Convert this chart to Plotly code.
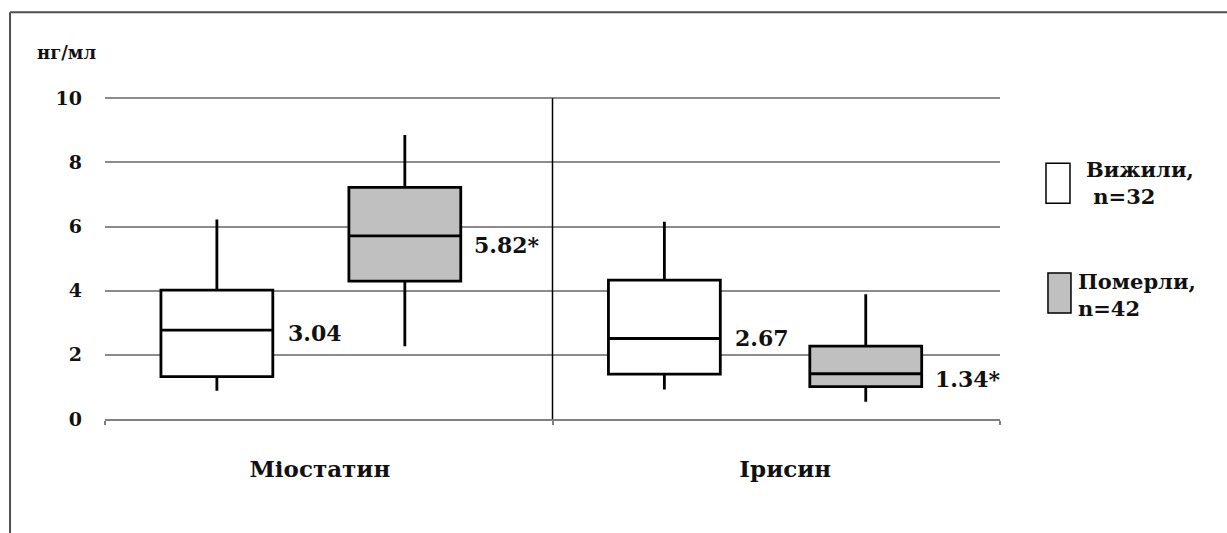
import plotly.graph_objects as go

# ---------------- data ----------------
categories = ["Міостатин", "Ірисин"]
groups = ["Вижили,", "Померли,"]
group_n = ["n=32", "n=42"]

# five-number summaries (ng/ml), per group, per category
surv_low = [0.88, 0.92]
surv_q1 = [1.32, 1.40]
surv_med = [2.77, 2.51]
surv_q3 = [4.02, 4.33]
surv_high = [6.22, 6.15]

died_low = [2.27, 0.54]
died_q1 = [4.30, 1.01]
died_med = [5.71, 1.41]
died_q3 = [7.22, 2.27]
died_high = [8.85, 3.89]

surv_labels = ["3.04", "2.67"]
died_labels = ["5.82*", "1.34*"]

y_ticks = [0, 2, 4, 6, 8, 10]
y_unit = "нг/мл"

# ---------------- layout constants ----------------
FONT = "DejaVu Serif"
TXT = "#111111"
BOX_W = 0.25
SURV_OFF = [0.25, 0.25]   # offset of the box inside each category slot
DIED_OFF = [0.67, 0.70]
FILLS = ["#ffffff", "#c0c0c0"]
LABEL_SHIFT_S = [-3, 0]   # px vertical nudges of the value labels
LABEL_SHIFT_D = [-9, -5]
Y_TOP = 10.1              # small headroom so the top gridline is drawn

# paper-y helper: plot area spans 0..Y_TOP; convert pixel rows of the 1227x533 canvas
PLOT_TOP_PX = 533 - 114 - 321 * Y_TOP / 10.0
def py(px):
    return (419 - px) / (419 - PLOT_TOP_PX)

fig = go.Figure()

def add_boxes(low, q1, med, q3, high, offs, fill, name):
    for i in range(len(categories)):
        fig.add_trace(go.Box(
            x=[i + offs[i]], lowerfence=[low[i]], q1=[q1[i]], median=[med[i]],
            q3=[q3[i]], upperfence=[high[i]], width=BOX_W, whiskerwidth=0,
            fillcolor=fill, line=dict(color="#000000", width=2.8),
            name=name, showlegend=False, hoverinfo="skip", boxpoints=False))

add_boxes(surv_low, surv_q1, surv_med, surv_q3, surv_high, SURV_OFF, FILLS[0], groups[0])
add_boxes(died_low, died_q1, died_med, died_q3, died_high, DIED_OFF, FILLS[1], groups[1])

annotations = []
for i in range(len(categories)):
    annotations.append(dict(x=i + SURV_OFF[i] + BOX_W / 2, y=surv_med[i], xref="x", yref="y",
                            text=f"<b>{surv_labels[i]}</b>", showarrow=False, xanchor="left",
                            xshift=13, yshift=LABEL_SHIFT_S[i],
                            font=dict(family=FONT, size=22, color=TXT)))
    annotations.append(dict(x=i + DIED_OFF[i] + BOX_W / 2, y=died_med[i], xref="x", yref="y",
                            text=f"<b>{died_labels[i]}</b>", showarrow=False, xanchor="left",
                            xshift=11, yshift=LABEL_SHIFT_D[i],
                            font=dict(family=FONT, size=22, color=TXT)))

# unit label
annotations.append(dict(x=-0.078, y=py(52), xref="paper", yref="paper", text=f"<b>{y_unit}</b>",
                        showarrow=False, xanchor="left", yanchor="middle",
                        font=dict(family=FONT, size=18, color=TXT)))

# legend (drawn manually)
annotations.append(dict(x=1.094, y=py(183), xref="paper", yref="paper",
                        text=f"<b>{groups[0]}</b><br><b> {group_n[0]}</b>", showarrow=False,
                        xanchor="left", yanchor="middle", align="left",
                        font=dict(family=FONT, size=21, color=TXT)))
annotations.append(dict(x=1.085, y=py(295), xref="paper", yref="paper",
                        text=f"<b>{groups[1]}</b><br><b>{group_n[1]}</b>", showarrow=False,
                        xanchor="left", yanchor="middle", align="left",
                        font=dict(family=FONT, size=21, color=TXT)))

shapes = [
    # divider between categories
    dict(type="line", xref="x", yref="y", x0=1, x1=1, y0=0, y1=10,
         line=dict(color="#000000", width=1.5)),
    # outer frame (left and top)
    dict(type="line", xref="paper", yref="paper", x0=-0.1061, x1=-0.1061, y0=py(12), y1=py(560),
         line=dict(color="#505050", width=2)),
    dict(type="line", xref="paper", yref="paper", x0=-0.1061, x1=1.3, y0=py(12), y1=py(12),
         line=dict(color="#505050", width=2)),
    # legend swatches
    dict(type="rect", xref="paper", yref="paper", x0=1.0514, x1=1.0782, y0=py(203), y1=py(163),
         fillcolor=FILLS[0], line=dict(color="#000000", width=1.5)),
    dict(type="rect", xref="paper", yref="paper", x0=1.0536, x1=1.0793, y0=py(313), y1=py(273),
         fillcolor=FILLS[1], line=dict(color="#000000", width=1.5)),
]

fig.update_layout(
    width=1227, height=533,
    margin=dict(l=105, r=227, t=round(PLOT_TOP_PX), b=114),
    paper_bgcolor="white", plot_bgcolor="white",
    showlegend=False,
    annotations=annotations, shapes=shapes,
    xaxis=dict(range=[0, 2], tickmode="array", tickvals=[0.48, 1.52], ticktext=categories,
               showgrid=False, zeroline=False, showline=True, linecolor="#808080", linewidth=2,
               ticks="", ticklabelstandoff=28,
               tickfont=dict(family=FONT, size=23, color=TXT, weight="bold"),
               minor=dict(tickmode="array", tickvals=[0, 1, 2], ticks="outside", ticklen=4,
                          tickcolor="#808080", tickwidth=1.5, showgrid=False)),
    yaxis=dict(range=[0, Y_TOP], tickmode="array", tickvals=y_ticks,
               showgrid=True, gridcolor="#8c8c8c", gridwidth=1.5, zeroline=False,
               ticks="", ticklabelstandoff=22,
               tickfont=dict(family=FONT, size=19, color=TXT, weight="bold")),
)

fig.write_html("out.html")
